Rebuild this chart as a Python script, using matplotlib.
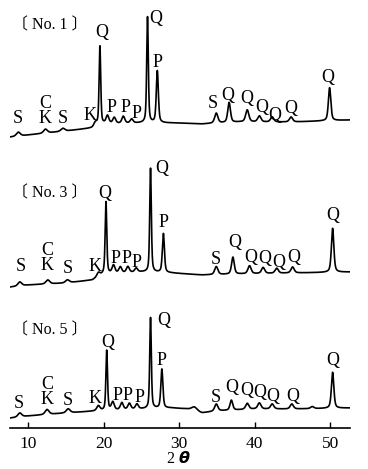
import numpy as np
import matplotlib
matplotlib.use("Agg")
from matplotlib import pyplot as plt

# XRD patterns of three samples, stacked (No.1 on top, No.5 at bottom)
two_theta = np.linspace(7.7, 52.5, 4000)

# --- sample No.1 ---
no1_base_2t = [7.7, 10, 15, 18.5, 20, 25, 29, 33, 38, 45, 52.5]
no1_base_I = [291, 293, 297, 300, 304, 305, 305, 304, 306, 306, 308]
no1_pos = [8.7, 12.3, 14.6, 18.9, 19.5, 20.5, 21.4, 22.6, 23.7, 25.8, 27.1,
           34.9, 36.6, 39.0, 40.6, 42.3, 44.8, 49.9]
no1_height = [4, 4, 3, 4, 79, 8, 6, 7, 4, 106, 52,
              10, 20, 12, 6, 5, 5, 33]
no1_fwhm = [0.6, 0.6, 0.6, 0.5, 0.25, 0.45, 0.45, 0.45, 0.45, 0.25, 0.32,
            0.5, 0.42, 0.5, 0.5, 0.5, 0.5, 0.38]

# --- sample No.3 ---
no3_base_2t = [7.7, 10, 15, 18.5, 20, 25, 29, 33, 38, 45, 52.5]
no3_base_I = [141, 143, 145, 148, 154, 156, 155, 153, 154, 155, 156]
no3_pos = [8.9, 12.6, 15.2, 19.3, 20.3, 21.3, 22.2, 23.2, 24.3, 26.2, 27.9,
           34.9, 37.1, 39.3, 41.1, 42.9, 45.0, 50.3]
no3_height = [4, 4, 3, 4, 72, 8, 6, 6, 4, 104, 39,
              8, 17, 8, 6, 5, 6, 44]
no3_fwhm = [0.6, 0.6, 0.6, 0.5, 0.25, 0.45, 0.45, 0.45, 0.45, 0.25, 0.32,
            0.5, 0.42, 0.5, 0.5, 0.5, 0.5, 0.38]

# --- sample No.5 ---
no5_base_2t = [7.7, 10, 15, 19, 22, 25, 29, 31, 33, 35, 40, 45, 52.5]
no5_base_I = [10, 12, 15, 17, 18, 19, 20, 19, 15, 17, 19, 19, 20]
no5_pos = [8.9, 12.5, 15.3, 19.3, 20.4, 21.2, 22.4, 23.4, 24.4, 26.2, 27.7,
           32.0, 34.9, 36.9, 39.0, 40.6, 42.3, 44.9, 47.6, 50.3]
no5_height = [4, 5, 4, 5, 60, 8, 7, 6, 5, 91, 39,
              4, 7, 10, 6, 6, 5, 5, 2, 36]
no5_fwhm = [0.6, 0.6, 0.6, 0.5, 0.25, 0.45, 0.45, 0.45, 0.45, 0.25, 0.32,
            0.9, 0.5, 0.42, 0.5, 0.5, 0.5, 0.5, 0.5, 0.38]

# phase labels: (text, 2theta, height); "C\nK" = chlorite over kaolinite
no1_labels = [("S", 8.7, 310), ("C\nK", 12.25, 317), ("S", 14.6, 310),
              ("K", 18.2, 313), ("Q", 19.8, 396), ("P", 21.1, 321), ("P", 22.85, 321),
              ("P", 24.4, 315), ("Q", 26.9, 410), ("P", 27.1, 366),
              ("S", 34.5, 325), ("Q", 36.4, 333), ("Q", 39.0, 330), ("Q", 40.9, 321),
              ("Q", 42.7, 313), ("Q", 44.7, 320), ("Q", 49.7, 351)]
no3_labels = [("S", 9.07, 162), ("C\nK", 12.5, 170), ("S", 15.3, 160),
              ("K", 18.9, 162), ("Q", 20.2, 235), ("P", 21.5, 170), ("P", 23.0, 170),
              ("P", 24.4, 166), ("Q", 27.7, 260), ("P", 27.9, 206),
              ("S", 34.8, 169), ("Q", 37.3, 186), ("Q", 39.4, 171), ("Q", 41.3, 170),
              ("Q", 43.2, 166), ("Q", 45.2, 171), ("Q", 50.3, 213)]
no5_labels = [("S", 8.8, 25), ("C\nK", 12.5, 36), ("S", 15.3, 28),
              ("K", 18.9, 30), ("Q", 20.5, 86), ("P", 21.8, 33), ("P", 23.2, 33),
              ("P", 24.8, 31), ("Q", 27.9, 108), ("P", 27.7, 68),
              ("S", 34.9, 31), ("Q", 36.9, 41), ("Q", 38.9, 38), ("Q", 40.7, 36),
              ("Q", 42.4, 32), ("Q", 45.0, 32), ("Q", 50.3, 68)]

sample_names = ["〔 No. 1 〕", "〔 No. 3 〕", "〔 No. 5 〕"]
sample_name_y = [403, 235, 98]


def pattern(base_2t, base_I, pos, height, fwhm):
    y = np.interp(two_theta, base_2t, base_I)
    for p, h, w in zip(pos, height, fwhm):
        g = np.exp(-4 * np.log(2) * ((two_theta - p) / w) ** 2)
        l = 1 / (1 + 4 * ((two_theta - p) / w) ** 2)
        y = y + h * (0.5 * g + 0.5 * l)
    return y


serif = ["Liberation Serif", "Noto Sans CJK JP", "DejaVu Serif"]

fig = plt.figure(figsize=(3.68, 4.69), dpi=100)
ax = fig.add_axes([10 / 368, 41 / 469, 340 / 368, 428 / 469])

traces = [
    (no1_base_2t, no1_base_I, no1_pos, no1_height, no1_fwhm, no1_labels),
    (no3_base_2t, no3_base_I, no3_pos, no3_height, no3_fwhm, no3_labels),
    (no5_base_2t, no5_base_I, no5_pos, no5_height, no5_fwhm, no5_labels),
]
for (b2t, bI, pos, hgt, fw, labels), name, ny in zip(traces, sample_names, sample_name_y):
    ax.plot(two_theta, pattern(b2t, bI, pos, hgt, fw), color="black", lw=1.2)
    for txt, x, y in labels:
        ax.text(x, y, txt, ha="center", va="center", fontsize=13, family=serif,
                linespacing=0.85, multialignment="center")
    ax.text(7.9, ny, name, ha="left", va="center", fontsize=11.5, family=serif)

ax.set_xlim(7.6, 52.6)
ax.set_ylim(0, 428)
ax.set_xticks([10, 20, 30, 40, 50])
ax.tick_params(axis="x", direction="in", length=4, width=1, pad=6, labelsize=12.5)
for lbl in ax.get_xticklabels():
    lbl.set_family(serif)
ax.set_yticks([])
for side in ["left", "right", "top"]:
    ax.spines[side].set_visible(False)
ax.spines["bottom"].set_linewidth(1.2)
ax.patch.set_alpha(0)

fig.text(178 / 368, 1 - 467 / 469, "2 $\\boldsymbol{\\theta}$", ha="center", va="bottom",
         fontsize=11.5, family=serif)

fig.savefig("out.png", dpi=100)
